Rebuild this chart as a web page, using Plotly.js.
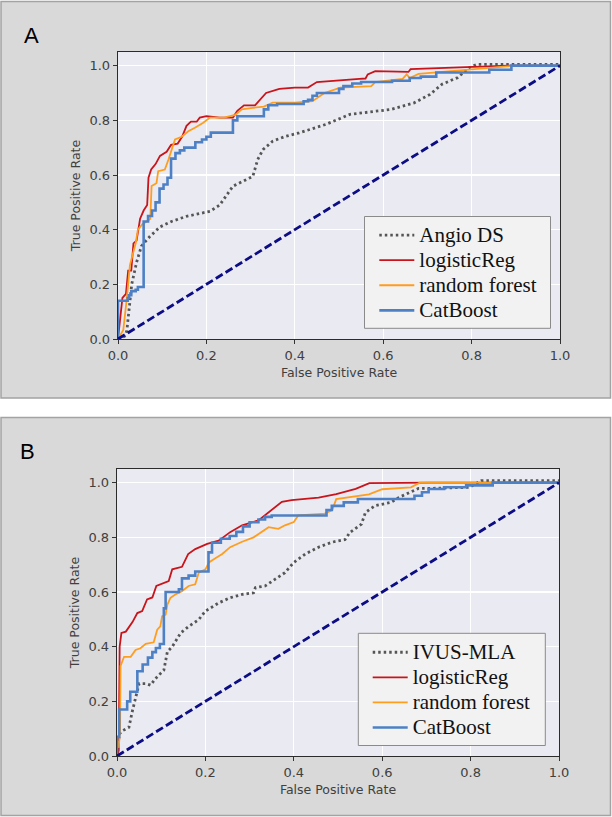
<!DOCTYPE html>
<html>
<head>
<meta charset="utf-8">
<script src="https://cdn.plot.ly/plotly-3.0.1.min.js"></script>
<style>html,body{margin:0;padding:0;background:#fff;}#chart{width:612px;height:817px;}</style>
</head>
<body>
<div id="chart"></div>
<script>
// ---------- Panel A data ----------
const namesA = ["Angio DS", "logisticReg", "random forest", "CatBoost"];
const fprA_ds  = [0, 0.015, 0.02, 0.023, 0.026, 0.031, 0.042, 0.053, 0.072, 0.095, 0.121, 0.155, 0.208, 0.23, 0.26, 0.283, 0.305, 0.316, 0.328, 0.35, 0.38, 0.41, 0.47, 0.525, 0.618, 0.67, 0.706, 0.733, 0.768, 0.795, 0.812, 0.85, 1.0];
const tprA_ds  = [0, 0.01, 0.03, 0.08, 0.13, 0.2, 0.28, 0.34, 0.375, 0.41, 0.43, 0.449, 0.467, 0.49, 0.559, 0.577, 0.595, 0.656, 0.693, 0.724, 0.742, 0.754, 0.785, 0.822, 0.84, 0.864, 0.895, 0.932, 0.956, 0.993, 1.005, 1.005, 1.005];
const fprA_lr  = [0, 0.003, 0.006, 0.01, 0.018, 0.023, 0.03, 0.035, 0.042, 0.05, 0.058, 0.066, 0.069, 0.075, 0.085, 0.095, 0.11, 0.12, 0.135, 0.145, 0.155, 0.165, 0.178, 0.185, 0.2, 0.23, 0.26, 0.27, 0.285, 0.31, 0.335, 0.365, 0.40, 0.43, 0.45, 0.49, 0.546, 0.56, 0.565, 0.582, 0.657, 0.662, 0.706, 0.795, 0.883, 1.0];
const tprA_lr  = [0, 0.05, 0.11, 0.15, 0.165, 0.25, 0.25, 0.35, 0.36, 0.44, 0.47, 0.49, 0.59, 0.62, 0.64, 0.67, 0.685, 0.71, 0.715, 0.74, 0.78, 0.795, 0.795, 0.81, 0.815, 0.81, 0.81, 0.835, 0.855, 0.855, 0.9, 0.915, 0.92, 0.92, 0.94, 0.946, 0.952, 0.953, 0.968, 0.98, 0.977, 0.987, 0.99, 0.995, 1.0, 1.0];
const fprA_rf  = [0, 0.012, 0.02, 0.027, 0.035, 0.04, 0.045, 0.055, 0.065, 0.073, 0.076, 0.087, 0.091, 0.106, 0.114, 0.121, 0.129, 0.144, 0.159, 0.174, 0.192, 0.208, 0.24, 0.265, 0.28, 0.3, 0.33, 0.35, 0.4, 0.44, 0.467, 0.503, 0.573, 0.582, 0.644, 0.653, 0.66, 0.68, 0.8, 0.88, 0.9, 1.0];
const tprA_rf  = [0, 0.033, 0.15, 0.27, 0.32, 0.35, 0.40, 0.42, 0.43, 0.44, 0.56, 0.57, 0.614, 0.62, 0.656, 0.693, 0.73, 0.74, 0.76, 0.773, 0.79, 0.81, 0.81, 0.82, 0.84, 0.845, 0.85, 0.865, 0.865, 0.87, 0.90, 0.92, 0.925, 0.94, 0.952, 0.968, 0.955, 0.97, 0.985, 0.995, 1.0, 1.0];
const fprA_cb  = [0, 0, 0.022, 0.025, 0.03, 0.04, 0.045, 0.058, 0.068, 0.077, 0.085, 0.094, 0.103, 0.112, 0.12, 0.13, 0.14, 0.15, 0.175, 0.19, 0.2, 0.21, 0.26, 0.27, 0.33, 0.34, 0.36, 0.42, 0.43, 0.44, 0.45, 0.5, 0.51, 0.53, 0.55, 0.62, 0.66, 0.685, 0.72, 0.84, 0.89, 1.0];
const tprA_cb  = [0, 0.14, 0.15, 0.16, 0.175, 0.18, 0.19, 0.43, 0.45, 0.47, 0.5, 0.55, 0.565, 0.59, 0.66, 0.68, 0.69, 0.70, 0.72, 0.73, 0.74, 0.755, 0.8, 0.815, 0.84, 0.855, 0.86, 0.87, 0.875, 0.89, 0.9, 0.915, 0.925, 0.935, 0.94, 0.945, 0.955, 0.96, 0.975, 0.985, 1.0, 1.0];

// ---------- Panel B data ----------
const namesB = ["IVUS-MLA", "logisticReg", "random forest", "CatBoost"];
const fprB_ds  = [0, 0.005, 0.012, 0.027, 0.035, 0.042, 0.05, 0.065, 0.076, 0.087, 0.106, 0.114, 0.125, 0.144, 0.162, 0.185, 0.2, 0.23, 0.256, 0.283, 0.309, 0.313, 0.335, 0.358, 0.38, 0.4, 0.426, 0.456, 0.486, 0.516, 0.527, 0.553, 0.562, 0.584, 0.62, 0.638, 0.664, 0.682, 0.709, 0.797, 0.824, 1.0];
const tprB_ds  = [0, 0.08, 0.092, 0.105, 0.166, 0.215, 0.265, 0.265, 0.259, 0.283, 0.314, 0.382, 0.4, 0.45, 0.474, 0.499, 0.53, 0.56, 0.579, 0.591, 0.597, 0.616, 0.622, 0.647, 0.671, 0.708, 0.739, 0.764, 0.782, 0.792, 0.818, 0.848, 0.891, 0.916, 0.928, 0.946, 0.967, 0.979, 0.979, 0.983, 1.007, 1.007];
const fprB_lr  = [0, 0.004, 0.006, 0.01, 0.02, 0.035, 0.046, 0.057, 0.068, 0.08, 0.089, 0.106, 0.117, 0.125, 0.147, 0.161, 0.177, 0.204, 0.23, 0.256, 0.283, 0.32, 0.343, 0.373, 0.395, 0.456, 0.496, 0.54, 0.571, 0.709, 1.0];
const tprB_lr  = [0, 0.02, 0.4, 0.45, 0.455, 0.49, 0.523, 0.53, 0.573, 0.58, 0.622, 0.634, 0.64, 0.683, 0.692, 0.739, 0.757, 0.776, 0.788, 0.819, 0.844, 0.862, 0.893, 0.93, 0.936, 0.945, 0.958, 0.977, 0.998, 1.0, 1.0];
const fprB_rf  = [0, 0, 0.004, 0.007, 0.008, 0.016, 0.031, 0.042, 0.053, 0.065, 0.083, 0.091, 0.098, 0.102, 0.11, 0.114, 0.121, 0.132, 0.147, 0.162, 0.177, 0.185, 0.2, 0.208, 0.219, 0.238, 0.256, 0.283, 0.309, 0.328, 0.343, 0.365, 0.38, 0.4, 0.41, 0.47, 0.487, 0.496, 0.52, 0.57, 0.6, 0.665, 0.685, 1.0];
const tprB_rf  = [0, 0.06, 0.03, 0.1, 0.33, 0.363, 0.363, 0.388, 0.394, 0.41, 0.416, 0.462, 0.474, 0.511, 0.517, 0.554, 0.579, 0.591, 0.603, 0.622, 0.628, 0.671, 0.683, 0.708, 0.72, 0.739, 0.764, 0.784, 0.8, 0.819, 0.837, 0.831, 0.844, 0.856, 0.88, 0.887, 0.9, 0.94, 0.945, 0.957, 0.976, 0.983, 1.0, 1.0];
const fprB_cb  = [0, 0, 0.005, 0.023, 0.03, 0.046, 0.058, 0.07, 0.08, 0.088, 0.097, 0.106, 0.11, 0.14, 0.147, 0.162, 0.177, 0.207, 0.215, 0.235, 0.255, 0.27, 0.285, 0.3, 0.32, 0.335, 0.35, 0.474, 0.486, 0.513, 0.545, 0.673, 0.69, 0.705, 0.74, 0.79, 0.85, 1.0];
const tprB_cb  = [0, 0.07, 0.17, 0.2, 0.235, 0.31, 0.335, 0.36, 0.38, 0.395, 0.41, 0.54, 0.6, 0.61, 0.65, 0.66, 0.675, 0.745, 0.78, 0.795, 0.805, 0.82, 0.84, 0.855, 0.865, 0.875, 0.88, 0.9, 0.915, 0.928, 0.94, 0.952, 0.965, 0.977, 0.983, 0.99, 1.0, 1.0];

const chanceX = [0, 1];
const chanceY = [0, 1];
const tickVals = [0, 0.2, 0.4, 0.6, 0.8, 1.0];
const tickText = ["0.0", "0.2", "0.4", "0.6", "0.8", "1.0"];

// ---------- styles ----------
const C_DS = "#555555", C_LR = "#c8141a", C_RF = "#ff9d1e", C_CB = "#4d80c4", C_CH = "#0c0c84";
const W = 612, H = 817;
const px = v => v / W;
const py = v => 1 - v / H;
const legText = s => '<span style="font-size:21px">' + s + '</span>';

function tracesFor(xa, ya, leg, names, d) {
  return [
    {x: d[0], y: d[1], name: legText(names[0]), xaxis: xa, yaxis: ya, legend: leg, mode: "lines",
     line: {color: C_DS, width: 2.8, dash: "2.5px,3px"}},
    {x: d[2], y: d[3], name: legText(names[1]), xaxis: xa, yaxis: ya, legend: leg, mode: "lines",
     line: {color: C_LR, width: 1.8}},
    {x: d[4], y: d[5], name: legText(names[2]), xaxis: xa, yaxis: ya, legend: leg, mode: "lines",
     line: {color: C_RF, width: 1.8}},
    {x: d[6], y: d[7], name: legText(names[3]), xaxis: xa, yaxis: ya, legend: leg, mode: "lines",
     line: {color: C_CB, width: 2.6, shape: "hv"}},
    {x: chanceX, y: chanceY, xaxis: xa, yaxis: ya, legend: leg, mode: "lines", showlegend: false,
     line: {color: C_CH, width: 2.8, dash: "8px,3.5px"}}
  ];
}

const data = [].concat(
  tracesFor("x", "y", "legend", namesA, [fprA_ds, tprA_ds, fprA_lr, tprA_lr, fprA_rf, tprA_rf, fprA_cb, tprA_cb]),
  tracesFor("x2", "y2", "legend2", namesB, [fprB_ds, tprB_ds, fprB_lr, tprB_lr, fprB_rf, tprB_rf, fprB_cb, tprB_cb])
);

const tickFont = {family: "DejaVu Sans, sans-serif", size: 13, color: "#404040"};
const titleFont = {family: "DejaVu Sans, sans-serif", size: 12.5, color: "#404040"};

function xAxis(dom, anchor) {
  return {domain: dom, anchor: anchor, range: [0, 1], tickvals: tickVals, ticktext: tickText,
    showgrid: true, gridcolor: "#ffffff", gridwidth: 1.3, zeroline: false,
    showline: true, linecolor: "#2b2b2b", linewidth: 1.3, mirror: true,
    ticks: "outside", ticklen: 4, tickcolor: "#333", tickwidth: 1,
    tickfont: tickFont, title: {text: "False Positive Rate", font: titleFont, standoff: 6}};
}
function yAxis(dom, anchor) {
  return {domain: dom, anchor: anchor, range: [0, 1.05], tickvals: tickVals, ticktext: tickText,
    showgrid: true, gridcolor: "#ffffff", gridwidth: 1.3, zeroline: false,
    showline: true, linecolor: "#2b2b2b", linewidth: 1.3, mirror: true,
    ticks: "outside", ticklen: 4, tickcolor: "#333", tickwidth: 1,
    tickfont: tickFont, title: {text: "True Positive Rate", font: titleFont, standoff: 6}};
}

const axA = {x0: 118, x1: 560, y0: 52, y1: 339};
const axB = {x0: 117, x1: 559, y0: 469, y1: 756};
const boxA = {x0: 364.5, x1: 550.5, y0: 216.5, y1: 328.3};
const boxB = {x0: 358.3, x1: 545.3, y0: 633.3, y1: 745.5};

const legendStyle = (x, y) => ({
  x: px(x), y: py(y), xanchor: "left", yanchor: "top", xref: "paper", yref: "paper",
  bgcolor: "rgba(0,0,0,0)", borderwidth: 0,
  font: {family: "Liberation Serif, Times New Roman, serif", size: 17, color: "#111"},
  tracegroupgap: 0, itemwidth: 35
});

const panelRect = (y0, y1) => ({type: "rect", xref: "paper", yref: "paper", layer: "below",
  x0: px(1), x1: px(610.5), y0: py(y1), y1: py(y0),
  fillcolor: "#d9d9d9", line: {color: "#a3a3a3", width: 1.5}});
const bgRect = a => ({type: "rect", xref: "paper", yref: "paper", layer: "below",
  x0: px(a.x0), x1: px(a.x1), y0: py(a.y1), y1: py(a.y0),
  fillcolor: "#eaeaf2", line: {width: 0}});
const legRect = b => ({type: "rect", xref: "paper", yref: "paper", layer: "above",
  x0: px(b.x0), x1: px(b.x1), y0: py(b.y1), y1: py(b.y0),
  fillcolor: "#f2f2f2", line: {color: "#8a8a8a", width: 1}});

const layout = {
  width: W, height: H,
  margin: {l: 0, r: 0, t: 0, b: 0, pad: 0},
  paper_bgcolor: "#ffffff",
  plot_bgcolor: "rgba(0,0,0,0)",
  showlegend: true,
  xaxis: xAxis([px(axA.x0), px(axA.x1)], "y"),
  yaxis: yAxis([py(axA.y1), py(axA.y0)], "x"),
  xaxis2: xAxis([px(axB.x0), px(axB.x1)], "y2"),
  yaxis2: yAxis([py(axB.y1), py(axB.y0)], "x2"),
  legend: legendStyle(374.3, 217.5),
  legend2: legendStyle(367.7, 634.7),
  shapes: [panelRect(1.5, 398), panelRect(417.5, 815.5), bgRect(axA), bgRect(axB), legRect(boxA), legRect(boxB)],
  annotations: [
    {text: "A", x: px(31), y: py(35), xref: "paper", yref: "paper", xanchor: "center", yanchor: "middle",
     showarrow: false, font: {family: "Liberation Sans, Arial, sans-serif", size: 22, color: "#000"}},
    {text: "B", x: px(27), y: py(451.3), xref: "paper", yref: "paper", xanchor: "center", yanchor: "middle",
     showarrow: false, font: {family: "Liberation Sans, Arial, sans-serif", size: 22, color: "#000"}}
  ]
};

Plotly.newPlot("chart", data, layout, {staticPlot: true, displayModeBar: false});
</script>
</body>
</html>
